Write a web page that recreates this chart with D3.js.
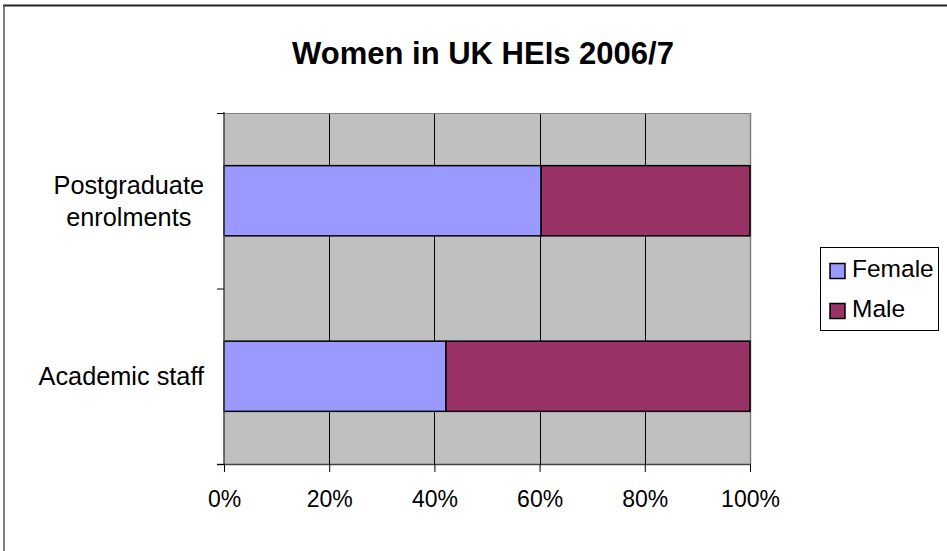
<!DOCTYPE html>
<html lang="en">
<head>
  <meta charset="utf-8">
  <script src="https://d3js.org/d3.v7.min.js"></script>
  <style>
    body { margin: 0; background: #fff; }
    svg { display: block; font-family: "Liberation Sans", Arial, sans-serif; }
    .title { font-size: 31px; font-weight: bold; }
    .cat { font-size: 25.3px; fill: #000; }
    .tick-label { font-size: 23px; fill: #000; }
    .legend text { font-size: 24.5px; fill: #000; }
  </style>
</head>
<body>
  <svg id="chart" width="947" height="551"></svg>
  <script>
    // data
    var categories = ["Postgraduate enrolments", "Academic staff"];
    var seriesNames = ["Female", "Male"];
    var female = [60.3, 42.2];
    var male = [39.7, 57.8];
    var xTicks = [0, 20, 40, 60, 80, 100];
    var colors = ["#9999ff", "#993366"];

    var svg = d3.select("#chart");

    // outer frame (only top and left visible)
    svg.append("line").attr("x1", 3).attr("x2", 947).attr("y1", 5.5).attr("y2", 5.5)
      .attr("stroke", "#222").attr("stroke-width", 2);
    svg.append("line").attr("x1", 4).attr("x2", 4).attr("y1", 5).attr("y2", 551)
      .attr("stroke", "#555").attr("stroke-width", 1.5);

    svg.append("text").attr("class", "title")
      .attr("x", 483).attr("y", 64).attr("text-anchor", "middle")
      .text("Women in UK HEIs 2006/7");

    var pLeft = 224, pRight = 750, pTop = 113, pBottom = 464;

    var x = d3.scaleLinear().domain([0, 100]).range([pLeft, pRight]);
    var y = d3.scaleBand().domain(categories).range([pTop, pBottom]);

    // plot background
    svg.append("rect").attr("x", pLeft).attr("y", pTop)
      .attr("width", pRight - pLeft).attr("height", pBottom - pTop)
      .attr("fill", "#c0c0c0");

    // vertical gridlines
    svg.selectAll(".grid").data(xTicks.slice(1, -1)).enter().append("line")
      .attr("x1", function(d) { return Math.round(x(d)) + 0.5; })
      .attr("x2", function(d) { return Math.round(x(d)) + 0.5; })
      .attr("y1", pTop).attr("y2", pBottom)
      .attr("stroke", "#000").attr("stroke-width", 1);

    // plot border right / top
    svg.append("line").attr("x1", pRight + 0.5).attr("x2", pRight + 0.5)
      .attr("y1", pTop).attr("y2", pBottom).attr("stroke", "#808080").attr("stroke-width", 1.5);
    svg.append("line").attr("x1", pLeft).attr("x2", pRight)
      .attr("y1", pTop + 0.5).attr("y2", pTop + 0.5).attr("stroke", "#808080").attr("stroke-width", 1);

    // bars
    var barH = y.bandwidth() * 0.4;
    var rows = categories.map(function(c, i) {
      return [{ cat: c, x0: 0, x1: female[i], s: 0 }, { cat: c, x0: female[i], x1: female[i] + male[i], s: 1 }];
    });
    svg.selectAll(".bar").data(d3.merge(rows)).enter().append("rect")
      .attr("x", function(d) { return x(d.x0); })
      .attr("width", function(d) { return x(d.x1) - x(d.x0); })
      .attr("y", function(d) { return y(d.cat) + (y.bandwidth() - barH) / 2; })
      .attr("height", barH)
      .attr("fill", function(d) { return colors[d.s]; })
      .attr("stroke", "#000").attr("stroke-width", 1.5);

    // x axis
    var xAxis = svg.append("g").attr("transform", "translate(0," + pBottom + ")")
      .call(d3.axisBottom(x).tickValues(xTicks).tickSize(8).tickSizeOuter(0)
        .tickFormat(function(d) { return d + "%"; }));
    xAxis.select(".domain").attr("stroke", "#444").attr("stroke-width", 1.5)
      .attr("d", "M" + (pLeft - 7) + ",0.5H" + pRight);
    xAxis.selectAll(".tick line").attr("stroke", "#000");
    xAxis.selectAll(".tick text").attr("class", "tick-label").attr("y", 43).attr("dy", null)
      .attr("font-family", null).attr("font-size", null).attr("fill", "#000");
    xAxis.attr("font-size", null).attr("font-family", null);

    // y axis
    var yAxis = svg.append("g").attr("transform", "translate(" + pLeft + ",0)");
    yAxis.append("line").attr("x1", 0).attr("x2", 0).attr("y1", pTop - 1).attr("y2", pBottom)
      .attr("stroke", "#444").attr("stroke-width", 1.5);
    var yTicks = [pTop, pTop + y.bandwidth(), pBottom];
    yAxis.selectAll(".ytick").data(yTicks).enter().append("line")
      .attr("x1", -7).attr("x2", 0)
      .attr("y1", function(d) { return d + 0.5; }).attr("y2", function(d) { return d + 0.5; })
      .attr("stroke", "#000");

    // category labels: block right-aligned, lines centred within it
    var catLines = [["Postgraduate", "enrolments"], ["Academic staff"]];
    var labelRight = 204, lineH = 32;
    categories.forEach(function(c, i) {
      var lines = catLines[i];
      var cy = y(c) + y.bandwidth() / 2;
      var t = svg.append("text").attr("class", "cat").attr("text-anchor", "middle");
      var spans = lines.map(function(l, j) {
        return t.append("tspan")
          .attr("y", cy + 9 + (j - (lines.length - 1) / 2) * lineH)
          .text(l);
      });
      var maxW = d3.max(spans, function(s) { return s.node().getComputedTextLength(); });
      spans.forEach(function(s) { s.attr("x", labelRight - maxW / 2); });
    });

    // legend
    var lg = svg.append("g").attr("class", "legend");
    lg.append("rect").attr("x", 820.5).attr("y", 247.5).attr("width", 118).attr("height", 83)
      .attr("fill", "#fff").attr("stroke", "#000").attr("stroke-width", 1);
    seriesNames.forEach(function(n, i) {
      var yy = 271 + i * 40;
      lg.append("rect").attr("x", 830).attr("y", yy - 7.5).attr("width", 15).attr("height", 15)
        .attr("fill", colors[i]).attr("stroke", "#000").attr("stroke-width", 1.5);
      lg.append("text").attr("x", 852).attr("y", yy + 5.5).text(n);
    });
  </script>
</body>
</html>
